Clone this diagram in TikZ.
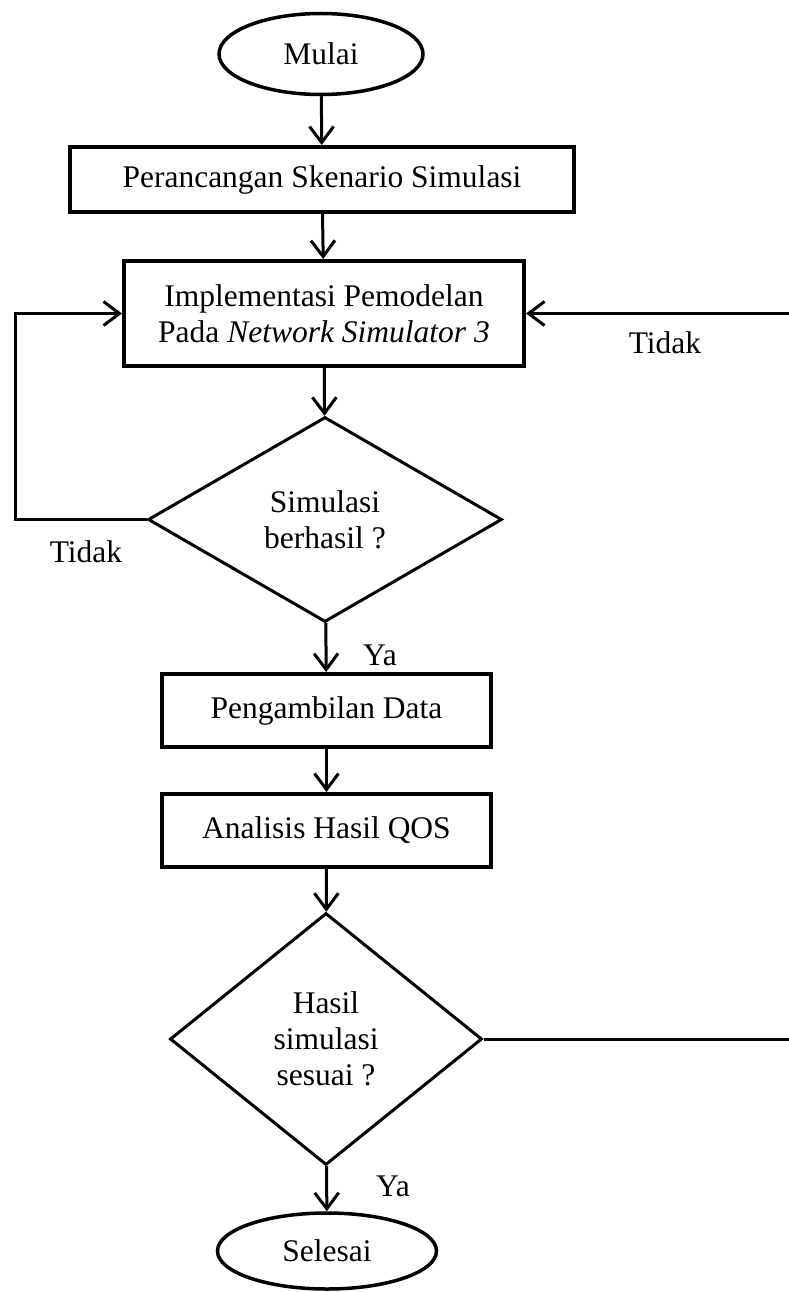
\documentclass[tikz,border=0pt]{standalone}
\usepackage{fontspec}
\setmainfont{Liberation Serif}
\usetikzlibrary{shapes.geometric,arrows.meta}

\begin{document}
\begin{tikzpicture}[x=1pt, y=-1pt,
    every node/.style={font=\fontsize{31.5}{36}\selectfont},
    terminal/.style={draw=black, line width=3.5pt, ellipse, inner sep=0pt},
    proses/.style={draw=black, line width=4pt, rectangle, inner sep=0pt, align=center},
    keputusan/.style={draw=black, line width=3pt, diamond, inner sep=0pt, align=center},
    panah/.style={-{Straight Barb[length=16pt, width=24pt]}, line width=3pt}]
    \useasboundingbox (0,0) rectangle (788,1292);

    % langkah utama
    \node[terminal, minimum width=204pt, minimum height=81pt] (mulai) at (321,54) {Mulai};
    \node[proses, minimum width=504pt, minimum height=65pt] (rancang) at (322,179.5) {Perancangan Skenario Simulasi};
    \node[proses, minimum width=400pt, minimum height=105pt] (implementasi) at (324,313.5)
        {Implementasi Pemodelan\\Pada \textit{Network Simulator 3}};
    \node[keputusan, minimum width=354pt, minimum height=205pt] (cekSimulasi) at (325,519.5)
        {Simulasi\\berhasil ?};
    \node[proses, minimum width=329pt, minimum height=73pt] (ambilData) at (326.5,710.5) {Pengambilan Data};
    \node[proses, minimum width=329pt, minimum height=73pt] (analisis) at (326.5,830.5) {Analisis Hasil QOS};
    \node[keputusan, minimum width=312pt, minimum height=252pt] (cekHasil) at (326,1039)
        {Hasil\\simulasi\\sesuai ?};
    \node[terminal, minimum width=219pt, minimum height=76pt] (selesai) at (327,1251) {Selesai};

    % label cabang
    \node (tidakKiri) at (86,552) {Tidak};
    \node (tidakKanan) at (665,343) {Tidak};
    \node (yaSimulasi) at (380,655) {Ya};
    \node (yaHasil) at (393,1186) {Ya};

    % titik belok
    \coordinate (kiri) at (15,313.5);
    \coordinate (kanan) at (790,313.5);

    \draw[panah] (mulai) -- (rancang);
    \draw[panah] (rancang) -- (implementasi);
    \draw[panah] (implementasi) -- (cekSimulasi);
    \draw[panah] (cekSimulasi) -- (ambilData);
    \draw[panah] (ambilData) -- (analisis);
    \draw[panah] (analisis) -- (cekHasil);
    \draw[panah] (cekHasil) -- (selesai);
    \draw[panah] (cekSimulasi.west) -| (kiri) -- (implementasi.west);
    \draw[panah] (cekHasil.east) -| (kanan) -- (implementasi.east);
\end{tikzpicture}
\end{document}
